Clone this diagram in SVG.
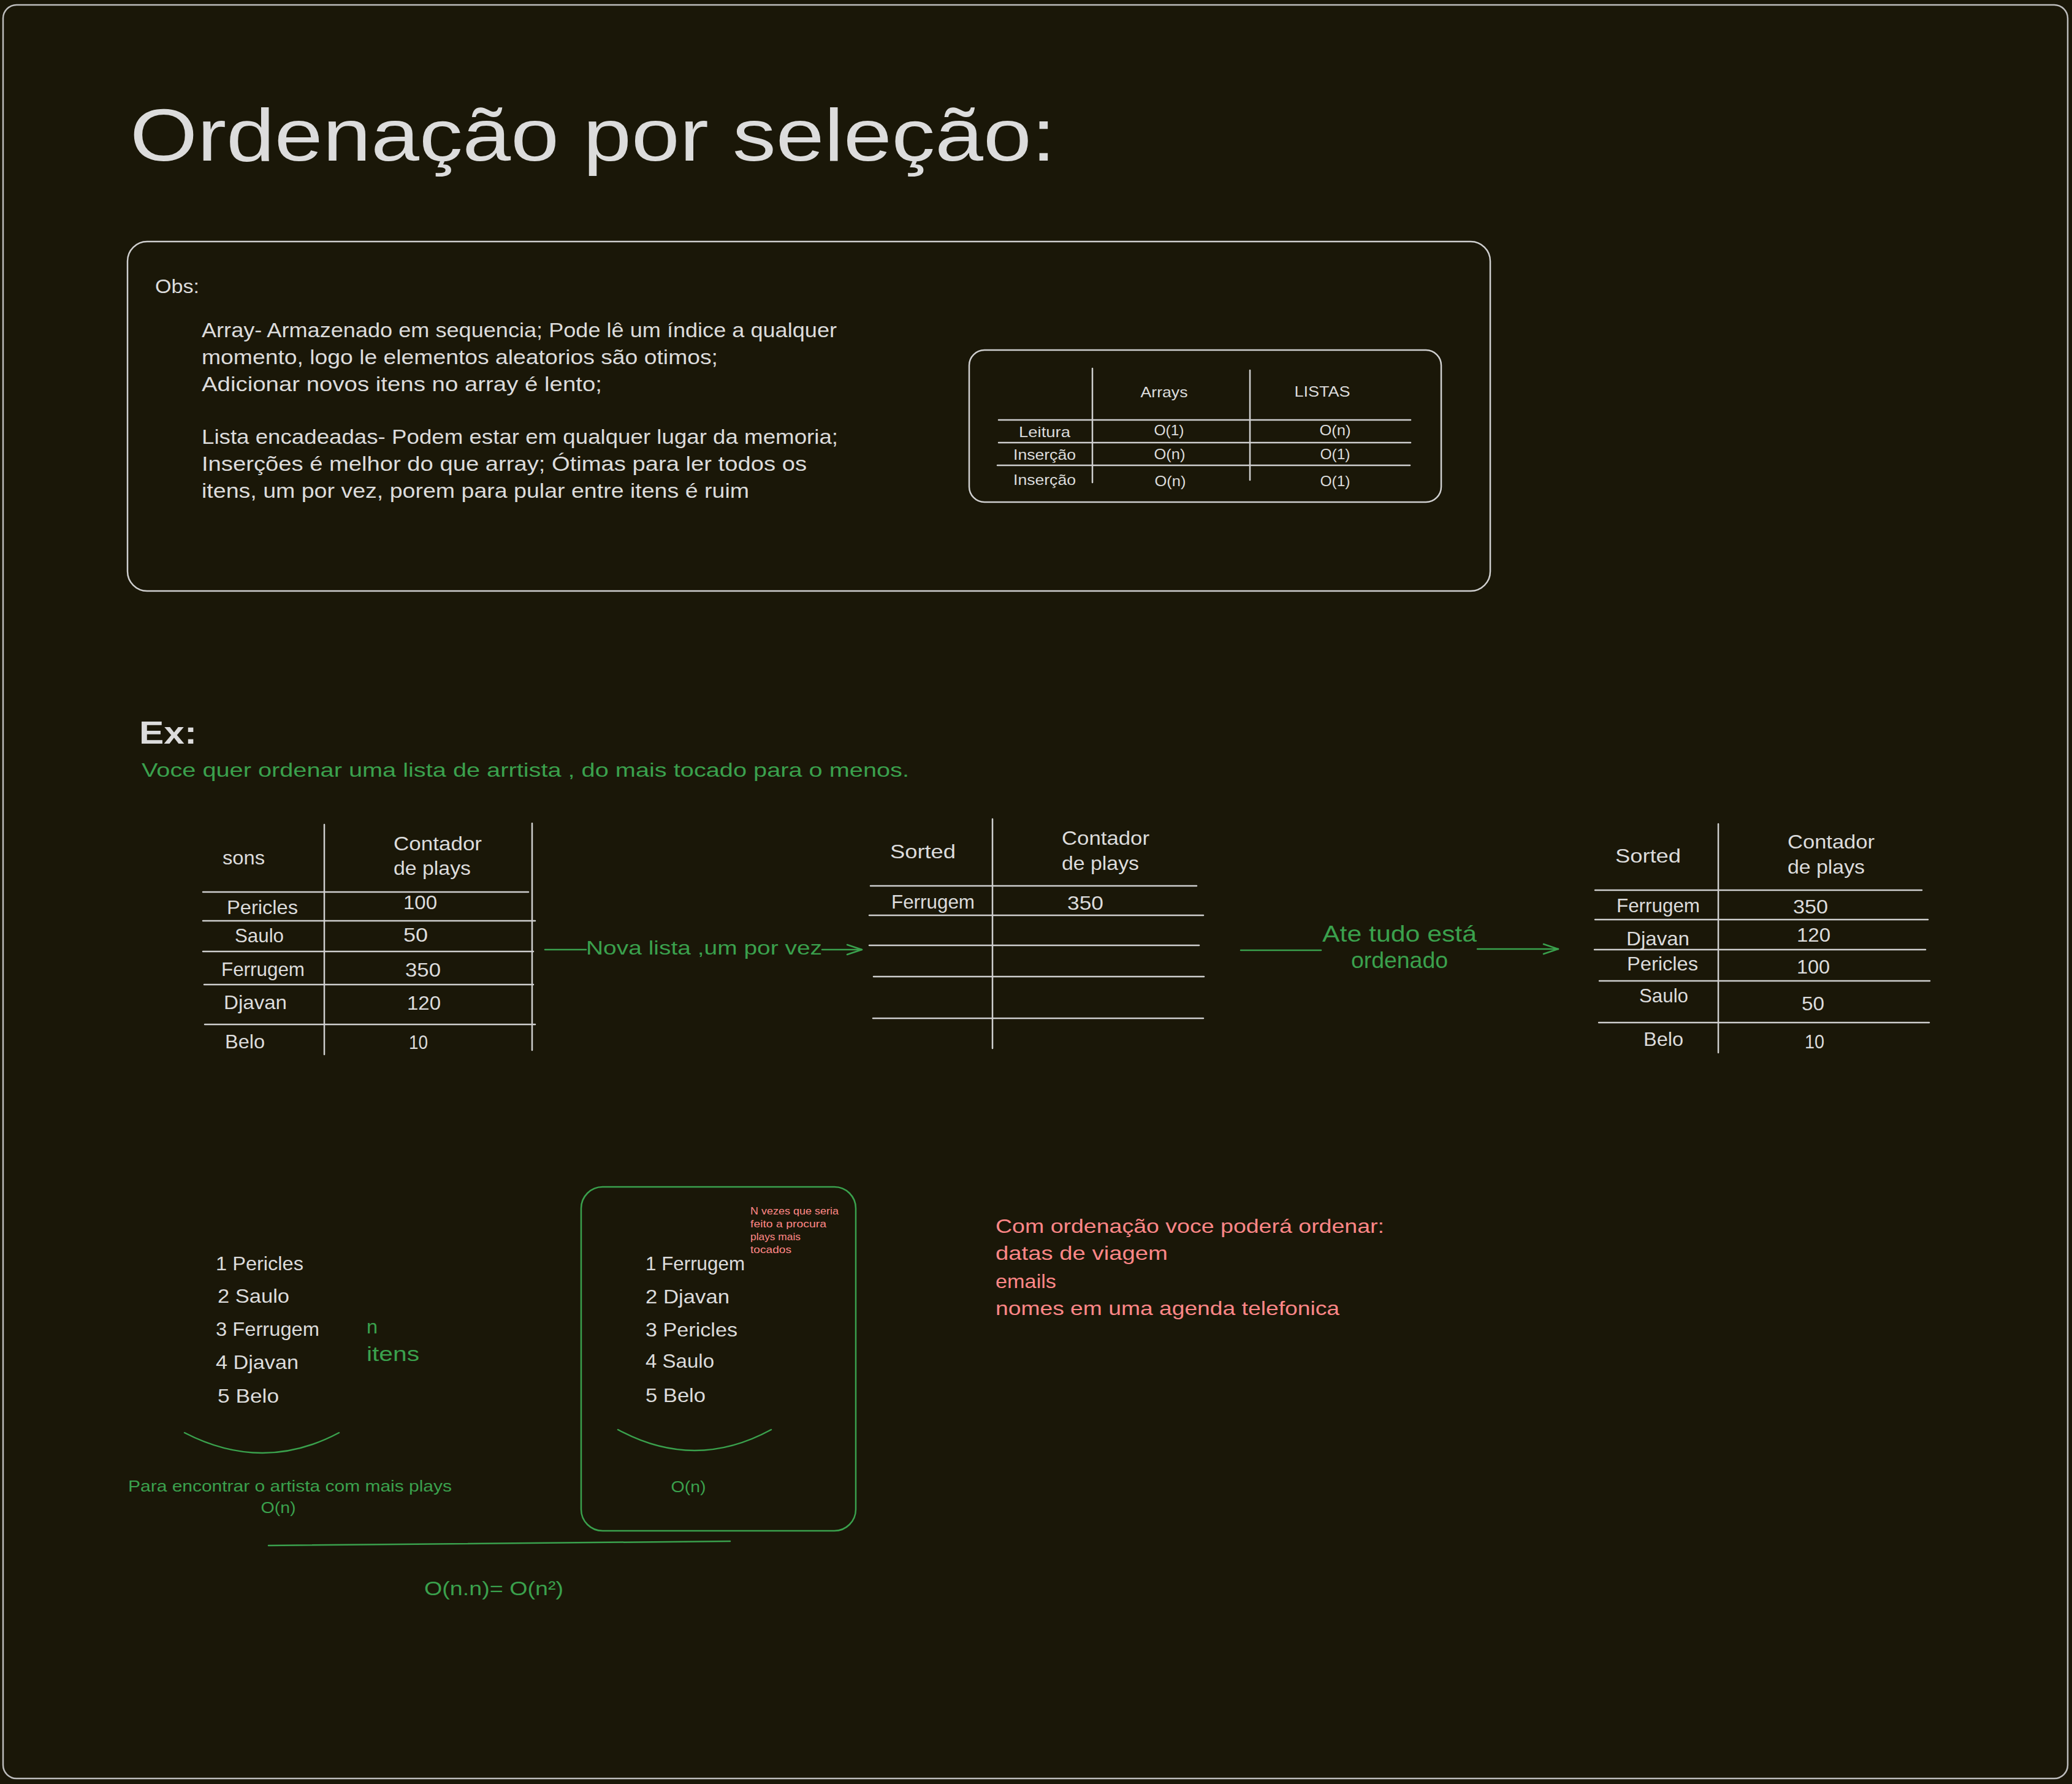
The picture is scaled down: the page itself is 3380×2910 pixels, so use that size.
<svg xmlns="http://www.w3.org/2000/svg" width="3380" height="2910" viewBox="0 0 3380 2910">
<defs>
<style>
text{font-family:"Liberation Sans","DejaVu Sans",sans-serif;}
.w{fill:#dcdcdc;}
.g{fill:#3aa14d;}
.r{fill:#ff8787;}
.m{text-anchor:middle;}
.ln{stroke:#cfcfcf;stroke-width:2.5;fill:none;stroke-linecap:round;}
.gl{stroke:#3aa14d;stroke-width:2.5;fill:none;stroke-linecap:round;}
.s32{font-size:32px;}
</style>
<marker id="ah" markerUnits="userSpaceOnUse" markerWidth="40" markerHeight="30" refX="0" refY="0" viewBox="-28 -15 32 30" orient="auto" overflow="visible">
<path d="M-24,-8 L0,0 L-24,8" fill="none" stroke="#3aa14d" stroke-width="2.5" stroke-linecap="round" stroke-linejoin="round"/>
</marker>
</defs>
<rect x="0" y="0" width="3380" height="2910" fill="#1a1708"/>
<g id="frame"><rect x="5" y="8" width="3368" height="2893" rx="22" fill="none" stroke="#bdbdbd" stroke-width="2.5"/></g>

<g id="title"><text class="w" x="212" y="262" font-size="120" textLength="1510" lengthAdjust="spacingAndGlyphs">Ordenação por seleção:</text></g>

<g id="obs-box">
<rect x="208" y="394" width="2223" height="570" rx="32" class="ln"/>
<text class="w" x="253" y="478" font-size="32" textLength="72" lengthAdjust="spacingAndGlyphs">Obs:</text>
<text class="w" x="329" y="550" font-size="33" textLength="1036" lengthAdjust="spacingAndGlyphs">Array- Armazenado em sequencia; Pode lê um índice a qualquer</text>
<text class="w" x="329" y="594" font-size="33" textLength="842" lengthAdjust="spacingAndGlyphs">momento, logo le elementos aleatorios são otimos;</text>
<text class="w" x="329" y="638" font-size="33" textLength="653" lengthAdjust="spacingAndGlyphs">Adicionar novos itens no array é lento;</text>
<text class="w" x="329" y="724" font-size="33" textLength="1038" lengthAdjust="spacingAndGlyphs">Lista encadeadas- Podem estar em qualquer lugar da memoria;</text>
<text class="w" x="329" y="768" font-size="33" textLength="987" lengthAdjust="spacingAndGlyphs">Inserções é melhor do que array; Ótimas para ler todos os</text>
<text class="w" x="329" y="812" font-size="33" textLength="893" lengthAdjust="spacingAndGlyphs">itens, um por vez, porem para pular entre itens é ruim</text>
</g>

<g id="complexity-table">
<rect x="1581" y="571" width="770" height="248" rx="25" class="ln"/>
<path class="ln" d="M1782 601 V787 M2039 604 V783 M1629 685 H2301 M1629 722 H2301 M1627 759 H2300"/>
<g font-size="24">
<text class="w m" x="1899" y="648" textLength="77" lengthAdjust="spacingAndGlyphs">Arrays</text>
<text class="w m" x="2157" y="647" textLength="91" lengthAdjust="spacingAndGlyphs">LISTAS</text>
<text class="w m" x="1704" y="713" textLength="84" lengthAdjust="spacingAndGlyphs">Leitura</text>
<text class="w m" x="1704" y="750" textLength="102" lengthAdjust="spacingAndGlyphs">Inserção</text>
<text class="w m" x="1704" y="791" textLength="102" lengthAdjust="spacingAndGlyphs">Inserção</text>
<text class="w m" x="1907" y="710" textLength="49" lengthAdjust="spacingAndGlyphs">O(1)</text>
<text class="w m" x="1908" y="749" textLength="51" lengthAdjust="spacingAndGlyphs">O(n)</text>
<text class="w m" x="1909" y="793" textLength="51" lengthAdjust="spacingAndGlyphs">O(n)</text>
<text class="w m" x="2178" y="710" textLength="51" lengthAdjust="spacingAndGlyphs">O(n)</text>
<text class="w m" x="2178" y="749" textLength="49" lengthAdjust="spacingAndGlyphs">O(1)</text>
<text class="w m" x="2178" y="793" textLength="49" lengthAdjust="spacingAndGlyphs">O(1)</text>
</g>
</g>

<g id="ex-heading">
<text class="w" x="227" y="1213" font-size="52" font-weight="bold" textLength="94" lengthAdjust="spacingAndGlyphs">Ex:</text>
<text class="g" x="231" y="1267" font-size="32" textLength="1252" lengthAdjust="spacingAndGlyphs">Voce quer ordenar uma lista de arrtista , do mais tocado para o menos.</text>
</g>

<g id="table-original" class="s32">
<path class="ln" d="M529 1345 V1720 M868 1343 V1713 M331 1455 H862 M331 1502 H873 M331 1552 H870 M333 1606 H870 M334 1671 H873"/>
<text class="w" x="363" y="1410" textLength="69" lengthAdjust="spacingAndGlyphs">sons</text>
<text class="w" x="642" y="1387" textLength="144" lengthAdjust="spacingAndGlyphs">Contador</text>
<text class="w" x="642" y="1427" textLength="126" lengthAdjust="spacingAndGlyphs">de plays</text>
<text class="w" x="370" y="1491" textLength="116" lengthAdjust="spacingAndGlyphs">Pericles</text>
<text class="w" x="658" y="1483" textLength="55" lengthAdjust="spacingAndGlyphs">100</text>
<text class="w" x="383" y="1537" textLength="80" lengthAdjust="spacingAndGlyphs">Saulo</text>
<text class="w" x="658" y="1536" textLength="40" lengthAdjust="spacingAndGlyphs">50</text>
<text class="w" x="361" y="1592" textLength="136" lengthAdjust="spacingAndGlyphs">Ferrugem</text>
<text class="w" x="661" y="1593" textLength="58" lengthAdjust="spacingAndGlyphs">350</text>
<text class="w" x="365" y="1646" textLength="103" lengthAdjust="spacingAndGlyphs">Djavan</text>
<text class="w" x="664" y="1647" textLength="55" lengthAdjust="spacingAndGlyphs">120</text>
<text class="w" x="367" y="1710" textLength="65" lengthAdjust="spacingAndGlyphs">Belo</text>
<text class="w" x="667" y="1711" textLength="31" lengthAdjust="spacingAndGlyphs">10</text>
</g>

<g id="table-partial" class="s32">
<path class="ln" d="M1619 1336 V1710 M1420 1445 H1952 M1418 1493 H1963 M1418 1542 H1956 M1425 1593 H1964 M1424 1661 H1963"/>
<text class="w" x="1452" y="1400" textLength="107" lengthAdjust="spacingAndGlyphs">Sorted</text>
<text class="w" x="1732" y="1378" textLength="143" lengthAdjust="spacingAndGlyphs">Contador</text>
<text class="w" x="1732" y="1419" textLength="126" lengthAdjust="spacingAndGlyphs">de plays</text>
<text class="w" x="1454" y="1482" textLength="136" lengthAdjust="spacingAndGlyphs">Ferrugem</text>
<text class="w" x="1741" y="1484" textLength="59" lengthAdjust="spacingAndGlyphs">350</text>
</g>

<g id="table-sorted" class="s32">
<path class="ln" d="M2803 1344 V1717 M2602 1452 H3135 M2602 1500 H3145 M2601 1549 H3141 M2609 1600 H3148 M2608 1668 H3147"/>
<text class="w" x="2635" y="1407" textLength="107" lengthAdjust="spacingAndGlyphs">Sorted</text>
<text class="w" x="2916" y="1384" textLength="142" lengthAdjust="spacingAndGlyphs">Contador</text>
<text class="w" x="2916" y="1425" textLength="126" lengthAdjust="spacingAndGlyphs">de plays</text>
<text class="w" x="2637" y="1488" textLength="136" lengthAdjust="spacingAndGlyphs">Ferrugem</text>
<text class="w" x="2925" y="1490" textLength="57" lengthAdjust="spacingAndGlyphs">350</text>
<text class="w" x="2653" y="1542" textLength="103" lengthAdjust="spacingAndGlyphs">Djavan</text>
<text class="w" x="2931" y="1536" textLength="55" lengthAdjust="spacingAndGlyphs">120</text>
<text class="w" x="2654" y="1583" textLength="116" lengthAdjust="spacingAndGlyphs">Pericles</text>
<text class="w" x="2931" y="1588" textLength="54" lengthAdjust="spacingAndGlyphs">100</text>
<text class="w" x="2674" y="1635" textLength="80" lengthAdjust="spacingAndGlyphs">Saulo</text>
<text class="w" x="2939" y="1648" textLength="37" lengthAdjust="spacingAndGlyphs">50</text>
<text class="w" x="2681" y="1706" textLength="65" lengthAdjust="spacingAndGlyphs">Belo</text>
<text class="w" x="2944" y="1710" textLength="32" lengthAdjust="spacingAndGlyphs">10</text>
</g>

<g id="connectors">
<path class="gl" d="M889 1549 H956 M1341 1549 H1406" marker-end="url(#ah)"/>
<text class="g" x="956" y="1557" font-size="32" textLength="385" lengthAdjust="spacingAndGlyphs">Nova lista ,um por vez</text>
<path class="gl" d="M2024 1550 H2155 M2410 1548 H2542" marker-end="url(#ah)"/>
<text class="g m" x="2283" y="1536" font-size="36" textLength="252" lengthAdjust="spacingAndGlyphs">Ate tudo está</text>
<text class="g m" x="2283" y="1579" font-size="36" textLength="158" lengthAdjust="spacingAndGlyphs">ordenado</text>
</g>

<g id="list-unsorted" class="s32">
<text class="w" x="352" y="2072" textLength="143" lengthAdjust="spacingAndGlyphs">1 Pericles</text>
<text class="w" x="355" y="2125" textLength="117" lengthAdjust="spacingAndGlyphs">2 Saulo</text>
<text class="w" x="352" y="2179" textLength="169" lengthAdjust="spacingAndGlyphs">3 Ferrugem</text>
<text class="w" x="352" y="2233" textLength="135" lengthAdjust="spacingAndGlyphs">4 Djavan</text>
<text class="w" x="355" y="2288" textLength="100" lengthAdjust="spacingAndGlyphs">5 Belo</text>
<text class="g" x="598" y="2175" textLength="18" lengthAdjust="spacingAndGlyphs">n</text>
<text class="g" x="598" y="2220" font-size="34" textLength="86" lengthAdjust="spacingAndGlyphs">itens</text>
<path class="gl" d="M301 2337 Q429 2403 553 2337"/>
<text class="g" x="209" y="2433" font-size="26" textLength="528" lengthAdjust="spacingAndGlyphs">Para encontrar o artista com mais plays</text>
<text class="g m" x="454" y="2468" font-size="26" textLength="57" lengthAdjust="spacingAndGlyphs">O(n)</text>
</g>

<g id="list-sorted-box" class="s32">
<rect x="948" y="1936" width="448" height="561" rx="35" class="gl"/>
<text class="w" x="1053" y="2072" textLength="162" lengthAdjust="spacingAndGlyphs">1 Ferrugem</text>
<text class="w" x="1053" y="2126" textLength="137" lengthAdjust="spacingAndGlyphs">2 Djavan</text>
<text class="w" x="1053" y="2180" textLength="150" lengthAdjust="spacingAndGlyphs">3 Pericles</text>
<text class="w" x="1053" y="2231" textLength="112" lengthAdjust="spacingAndGlyphs">4 Saulo</text>
<text class="w" x="1053" y="2287" textLength="98" lengthAdjust="spacingAndGlyphs">5 Belo</text>
<g font-size="17">
<text class="r" x="1224" y="1981" textLength="144" lengthAdjust="spacingAndGlyphs">N vezes que seria</text>
<text class="r" x="1224" y="2002" textLength="124" lengthAdjust="spacingAndGlyphs">feito a procura</text>
<text class="r" x="1224" y="2023" textLength="82" lengthAdjust="spacingAndGlyphs">plays mais</text>
<text class="r" x="1224" y="2044" textLength="67" lengthAdjust="spacingAndGlyphs">tocados</text>
</g>
<path class="gl" d="M1008 2332 Q1133 2400 1258 2332"/>
<text class="g m" x="1123" y="2434" font-size="26" textLength="57" lengthAdjust="spacingAndGlyphs">O(n)</text>
</g>

<g id="total-complexity">
<path class="gl" d="M438 2521 L1191 2514"/>
<text class="g" x="692" y="2602" font-size="32" textLength="227" lengthAdjust="spacingAndGlyphs">O(n.n)= O(n²)</text>
</g>

<g id="uses-note" class="s32">
<text class="r" x="1624" y="2011" textLength="634" lengthAdjust="spacingAndGlyphs">Com ordenação voce poderá ordenar:</text>
<text class="r" x="1624" y="2055" textLength="281" lengthAdjust="spacingAndGlyphs">datas de viagem</text>
<text class="r" x="1624" y="2101" textLength="99" lengthAdjust="spacingAndGlyphs">emails</text>
<text class="r" x="1624" y="2145" textLength="561" lengthAdjust="spacingAndGlyphs">nomes em uma agenda telefonica</text>
</g>
</svg>
